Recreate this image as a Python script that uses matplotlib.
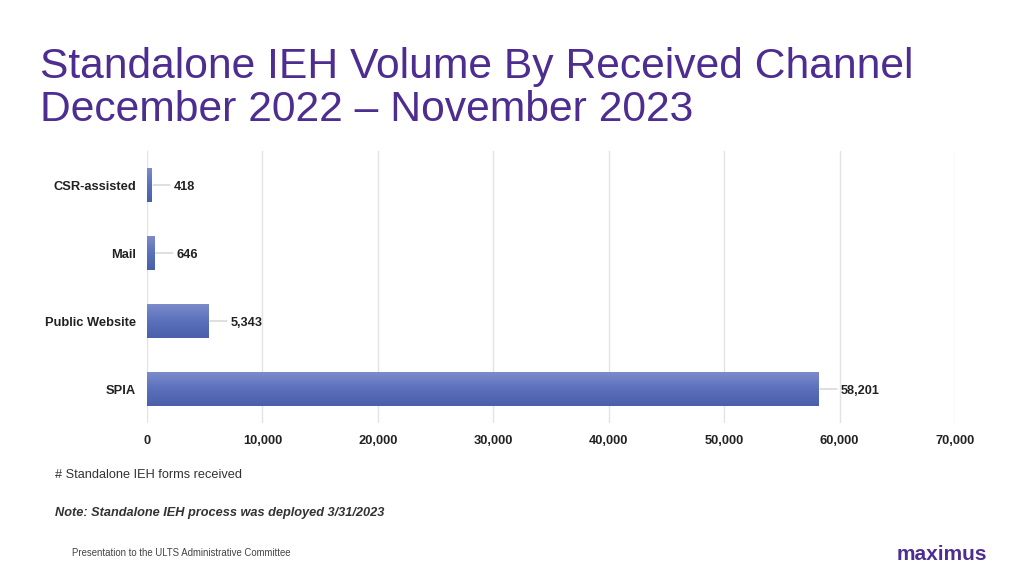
import matplotlib
matplotlib.use("Agg")
import matplotlib.pyplot as plt
import numpy as np
from matplotlib.colors import LinearSegmentedColormap

plt.rcParams['font.family'] = ['Liberation Sans', 'DejaVu Sans']

categories = ["CSR-assisted", "Mail", "Public Website", "SPIA"]
values = [418, 646, 5343, 58201]
xticks = [0, 10000, 20000, 30000, 40000, 50000, 60000, 70000]
title_lines = ["Standalone IEH Volume By Received Channel", "December 2022 \u2013 November 2023"]
xlabel = "# Standalone IEH forms received"
note = "Note: Standalone IEH process was deployed 3/31/2023"
footer = "Presentation to the ULTS Administrative Committee"
logo = "maximus"

purple = "#4E2D90"

fig = plt.figure(figsize=(10.24, 5.76), dpi=100)
ax = fig.add_axes([147/1024, 1-423/576, 808/1024, 272/576])

y = np.arange(len(categories))
bars = ax.barh(y, values, height=0.51, color="#5C70B8", zorder=2)

cmap = LinearSegmentedColormap.from_list("g", ["#7E8CCB", "#5B71BC", "#4A5FA9"])
grad = np.linspace(0, 1, 100).reshape(-1, 1)
for b in bars:
    x0, y0 = b.get_x(), b.get_y()
    w, h = b.get_width(), b.get_height()
    im = ax.imshow(grad[::-1], cmap=cmap, aspect='auto', extent=(x0, x0 + w, y0, y0 + h),
                   origin='upper', zorder=3)
    im.set_clip_path(b)

for i, v in enumerate(values):
    # leader line
    ax.annotate("", xy=(v, i), xytext=(13, 0), textcoords='offset points',
                arrowprops=dict(arrowstyle='-', color='#D9D9D9', lw=1.2, shrinkA=0, shrinkB=1))
    ax.annotate(f"{v:,}", xy=(v, i), xytext=(16, -1.5), textcoords='offset points',
                ha='left', va='center', fontsize=9.2, fontweight='bold', color='#222222')

ax.set_xlim(0, 70000)
ax.set_ylim(3.5, -0.5)
ax.set_xticks(xticks)
ax.set_xticklabels([f"{t:,}" for t in xticks], fontsize=9.3, fontweight='bold', color='#222222')
ax.set_yticks(y)
ax.set_yticklabels(categories, fontsize=9.3, fontweight='bold', color='#222222')
ax.tick_params(axis='both', length=0)
ax.tick_params(axis='x', pad=9)
ax.tick_params(axis='y', pad=8)
ax.grid(axis='x', color='#E3E3E3', lw=1, zorder=0)
ax.set_axisbelow(True)
for s in ax.spines.values():
    s.set_visible(False)

fig.text(40/1024, 1-78/576, title_lines[0], fontsize=30.7, color=purple, va='baseline', ha='left')
fig.text(40/1024, 1-121/576, title_lines[1], fontsize=30.7, color=purple, va='baseline', ha='left')

fig.text(55/1024, 1-475/576, xlabel, fontsize=9.15, color='#333333', va='center')
fig.text(55/1024, 1-513/576, note, fontsize=9.2, color='#333333', fontweight='bold',
         style='italic', va='center')
fig.text(72/1024, 1-553/576, footer, fontsize=6.9, color='#444444', va='center')
fig.text(987/1024, 1-554/576, logo, fontsize=15, color=purple, fontweight='bold',
         va='center', ha='right')

fig.savefig("out.png", dpi=100)
